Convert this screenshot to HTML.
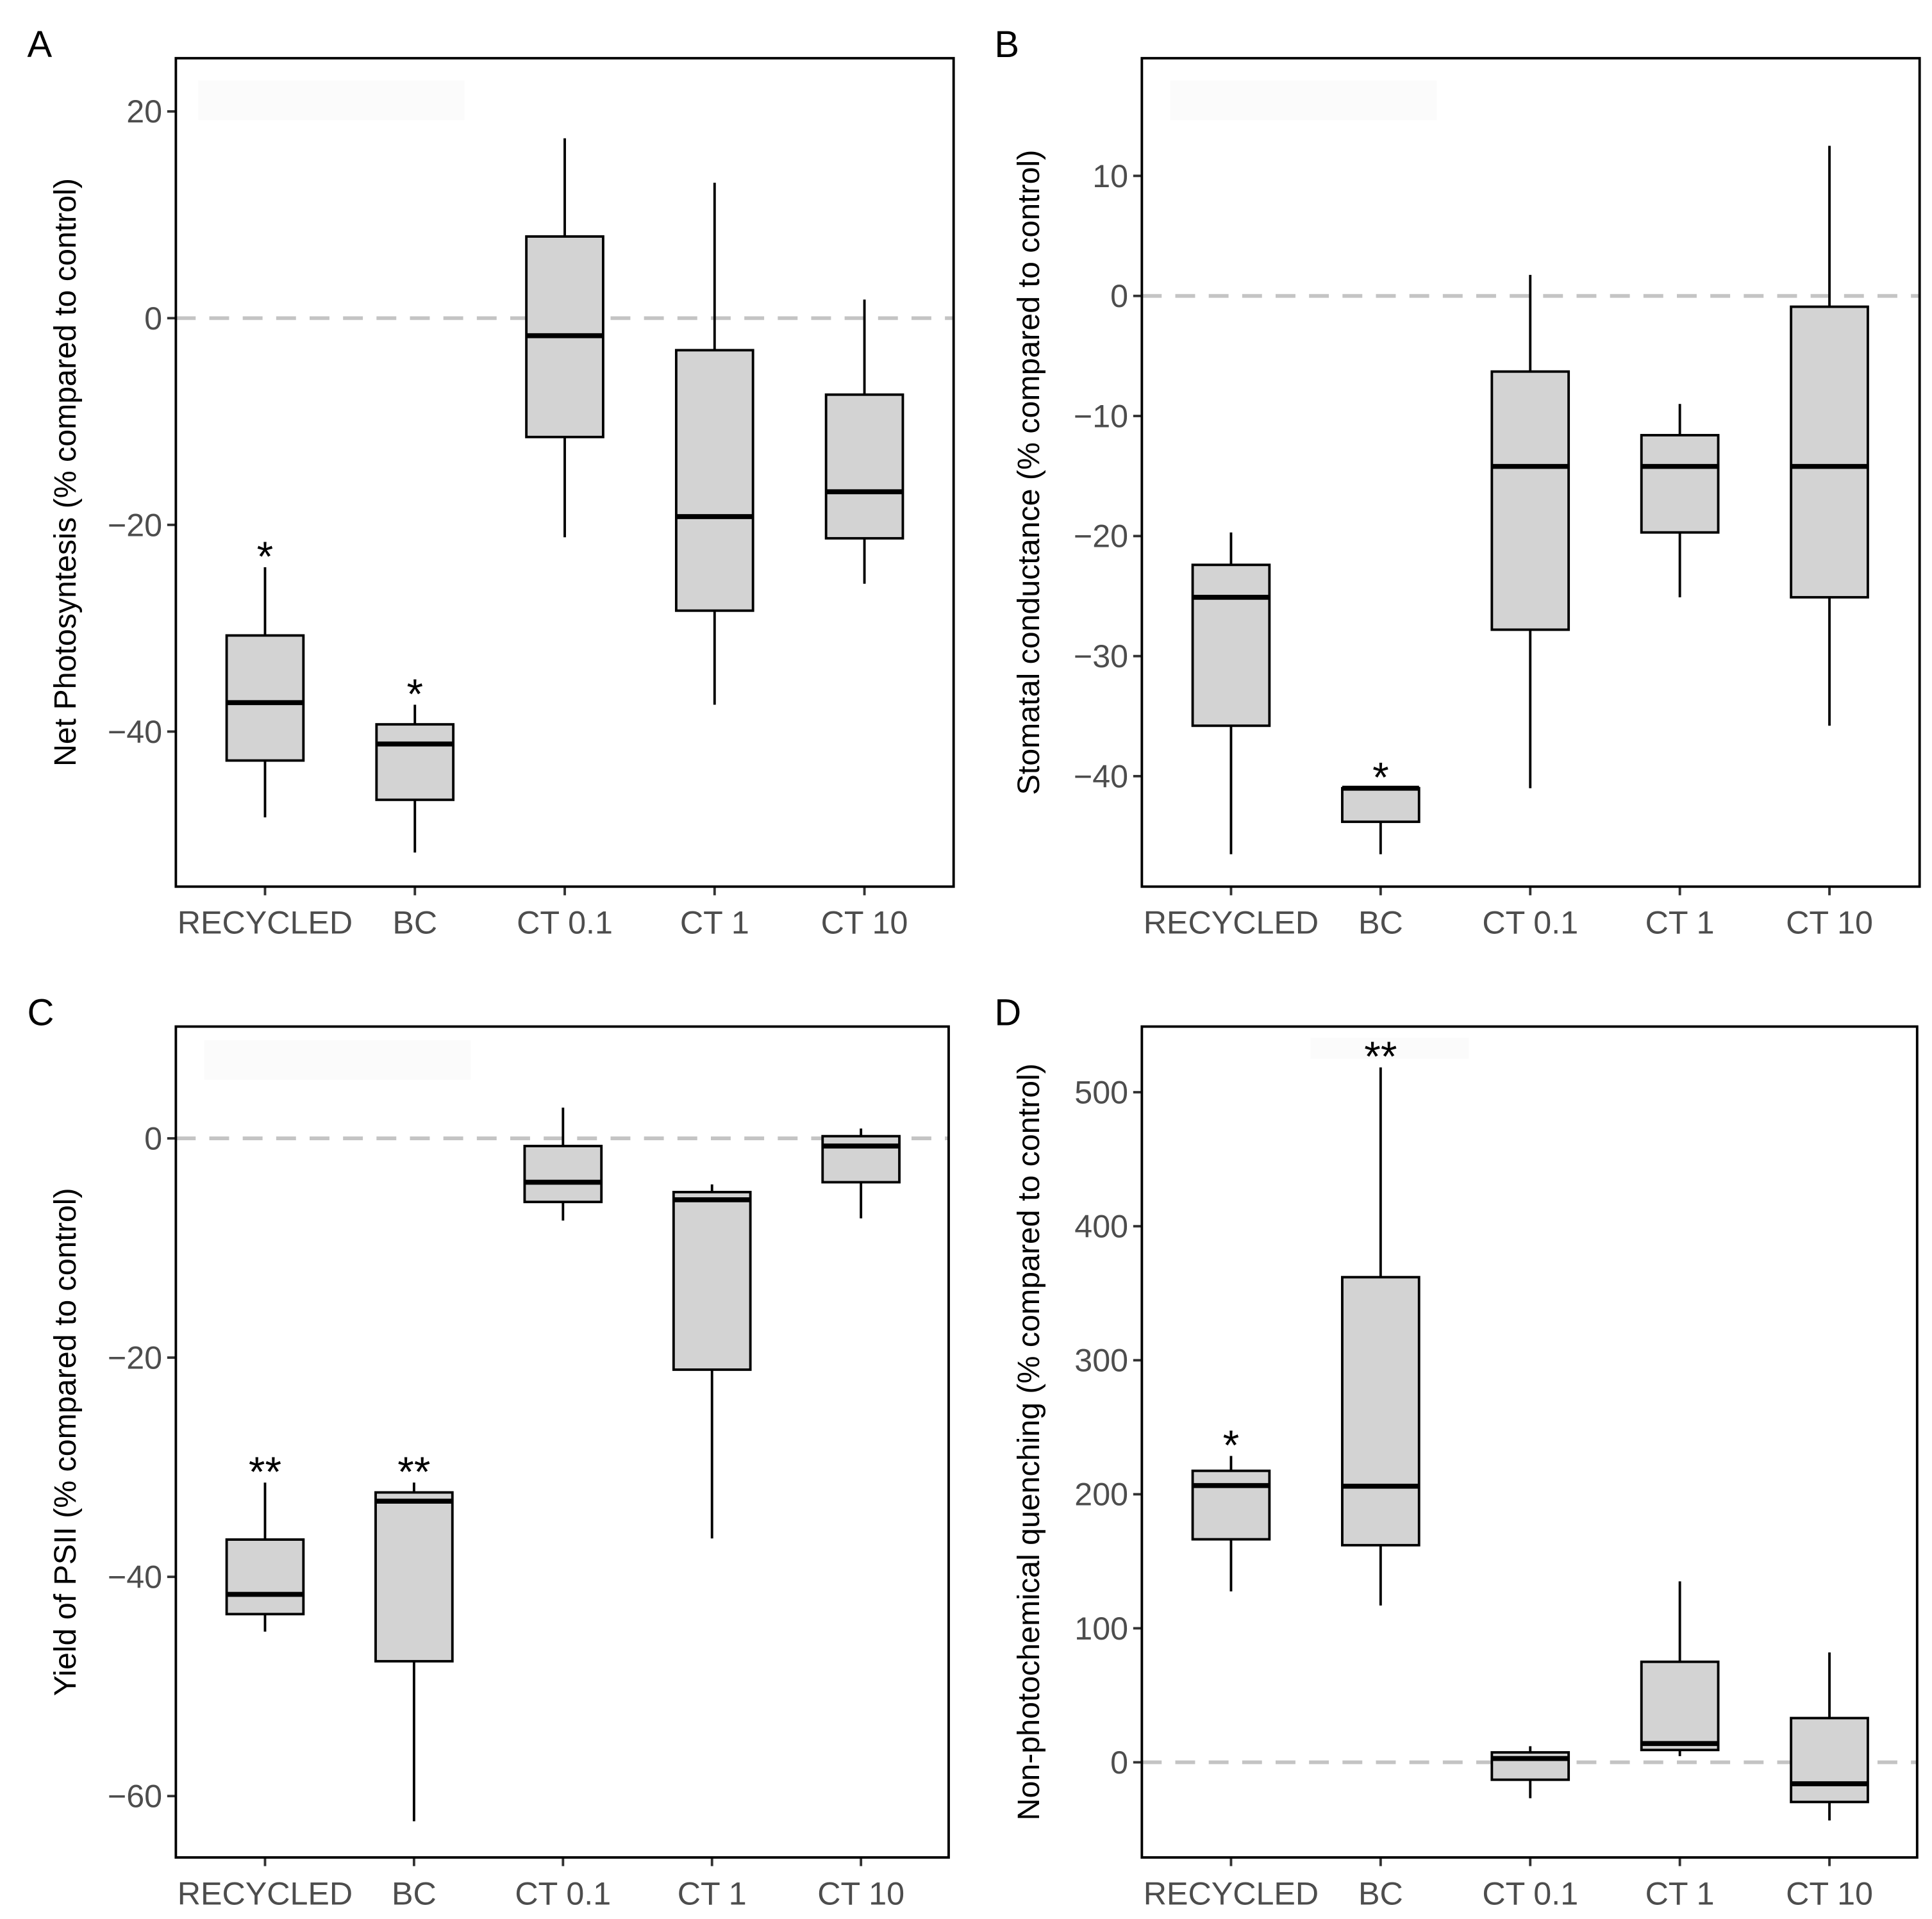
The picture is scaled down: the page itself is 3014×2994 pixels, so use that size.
<!DOCTYPE html>
<html><head><meta charset="utf-8"><style>
html,body{margin:0;padding:0;background:#fff;}
svg{display:block;}
text{font-family:"Liberation Sans",Arial,sans-serif;}
</style></head><body>
<svg id="fig" width="3014" height="2994" viewBox="0 0 1560 1549.7" preserveAspectRatio="none" xmlns="http://www.w3.org/2000/svg"></svg>
<script>
const categories = ["RECYCLED","BC","CT 0.1","CT 1","CT 10"];
// Panel A: Net photosynthesis [low, q1, median, q3, high]
const aLow = [-48.3,-51.7,-21.2,-37.4,-25.7];
const aQ1  = [-42.8,-46.6,-11.5,-28.3,-21.3];
const aMed = [-37.2,-41.2,-1.7,-19.2,-16.8];
const aQ3  = [-30.7,-39.3,7.9,-3.1,-7.4];
const aHigh= [-24.1,-37.4,17.4,13.1,1.8];
const aStars = ["*","*","","",""];
const aTicks = [20,0,-20,-40];
// Panel B: Stomatal conductance
const bLow = [-46.5,-46.5,-41,-25.1,-35.8];
const bQ1  = [-35.8,-43.8,-27.8,-19.7,-25.1];
const bMed = [-25.1,-41,-14.2,-14.2,-14.2];
const bQ3  = [-22.4,-41,-6.3,-11.6,-0.9];
const bHigh= [-19.7,-41,1.75,-9,12.5];
const bStars = ["","*","","",""];
const bTicks = [10,0,-10,-20,-30,-40];
// Panel C: Yield of PSII
const cLow = [-45,-62.3,-7.5,-36.5,-7.3];
const cQ1  = [-43.4,-47.7,-5.8,-21.1,-4.0];
const cMed = [-41.6,-33.1,-4.0,-5.6,-0.7];
const cQ3  = [-36.6,-32.3,-0.7,-4.9,0.2];
const cHigh= [-31.4,-31.4,2.8,-4.2,0.9];
const cStars = ["**","**","","",""];
const cTicks = [0,-20,-40,-60];
// Panel D: Non-photochemical quenching
const dLow = [127.5,117,-26.8,4.6,-43.4];
const dQ1  = [166.4,162,-13,9.2,-29.6];
const dMed = [206.5,206,2.8,14,-16];
const dQ3  = [217.5,362,7.4,75,33];
const dHigh= [228.6,518.5,12,135,82];
const dStars = ["*","**","","",""];
const dTicks = [500,400,300,200,100,0];

const NS="http://www.w3.org/2000/svg";
const svg=document.getElementById('fig');
function mk(tag,attrs,parent){const e=document.createElementNS(NS,tag);for(const k in attrs)e.setAttribute(k,attrs[k]);(parent||svg).appendChild(e);return e;}

function panel(cfg){
  const g=mk('g',{});
  
  
  const y=v=>cfg.y0+(cfg.ymax-v)/(cfg.ymax-cfg.ymin)*(cfg.y1-cfg.y0);
  const xs=i=>cfg.xc0+i*cfg.xstep;
  const lr=mk('rect',{x:cfg.lg[0],y:cfg.lg[1],width:cfg.lg[2],height:cfg.lg[3],fill:'#fbfbfb'},g);
  
  
  const zl=mk('line',{x1:cfg.x0,x2:cfg.x1,y1:y(0),y2:y(0),stroke:'#c4c4c4','stroke-width':3,'stroke-dasharray':'16 11'},g);
  
  
  const bw=62;
  categories.forEach((c,i)=>{
    const bg=mk('g',{},g);
    
    
    const x=xs(i);
    mk('line',{x1:x,x2:x,y1:y(cfg.hi[i]),y2:y(cfg.q3[i]),stroke:'#000','stroke-width':2},bg);
    mk('line',{x1:x,x2:x,y1:y(cfg.q1[i]),y2:y(cfg.lo[i]),stroke:'#000','stroke-width':2},bg);
    mk('rect',{x:x-bw/2,y:y(cfg.q3[i]),width:bw,height:Math.max(0.5,y(cfg.q1[i])-y(cfg.q3[i])),fill:'#d3d3d3',stroke:'#000','stroke-width':2},bg);
    mk('line',{x1:x-bw/2,x2:x+bw/2,y1:y(cfg.med[i]),y2:y(cfg.med[i]),stroke:'#000','stroke-width':4},bg);
    if(cfg.stars[i]){
      const t=mk('text',{x:x,y:y(cfg.hi[i])+3,'text-anchor':'middle','font-size':34,fill:'#000'},g);
      t.textContent=cfg.stars[i];
      
      
    }
    mk('line',{x1:x,x2:x,y1:cfg.y1,y2:cfg.y1+7,stroke:'#333','stroke-width':2},g);
    const tl=mk('text',{x:x,y:cfg.y1+38,'text-anchor':'middle','font-size':26,fill:'#4d4d4d'},g);
    tl.textContent=c;
    
    
  });
  cfg.ticks.forEach(v=>{
    mk('line',{x1:cfg.x0-7,x2:cfg.x0,y1:y(v),y2:y(v),stroke:'#333','stroke-width':2},g);
    const t=mk('text',{x:cfg.x0-11,y:y(v)+9,'text-anchor':'end','font-size':26,fill:'#4d4d4d'},g);
    t.textContent=(v<0?'\u2212'+(-v):String(v));
    
    
  });
  const fr=mk('rect',{x:cfg.x0,y:cfg.y0,width:cfg.x1-cfg.x0,height:cfg.y1-cfg.y0,fill:'none',stroke:'#000','stroke-width':2},g);
  
  
  const cy=(cfg.y0+cfg.y1)/2;
  const yt=mk('text',{x:cfg.tx,y:cy,'text-anchor':'middle','font-size':25,fill:'#000',transform:`rotate(-90 ${cfg.tx} ${cy})`},g);
  yt.textContent=cfg.title;
  
  
  const pl=mk('text',{x:cfg.lx,y:cfg.ly,'font-size':30,fill:'#000'},g);
  pl.textContent=cfg.key;
  
  
}

panel({key:'A',x0:142,x1:770,y0:47,y1:716,ymax:25.15,ymin:-55,xc0:214,xstep:121,
  lo:aLow,q1:aQ1,med:aMed,q3:aQ3,hi:aHigh,stars:aStars,ticks:aTicks,
  title:'Net Photosyntesis (% compared to control)',tx:61,lx:22,ly:46,lg:[160,65,215,32]});
panel({key:'B',x0:922,x1:1550,y0:47,y1:716,ymax:19.8,ymin:-49.2,xc0:994,xstep:120.8,
  lo:bLow,q1:bQ1,med:bMed,q3:bQ3,hi:bHigh,stars:bStars,ticks:bTicks,
  title:'Stomatal conductance (% compared to control)',tx:839,lx:803,ly:46,lg:[945,65,215,32]});
panel({key:'C',x0:142,x1:766,y0:829,y1:1500,ymax:10.2,ymin:-65.6,xc0:214,xstep:120.3,
  lo:cLow,q1:cQ1,med:cMed,q3:cQ3,hi:cHigh,stars:cStars,ticks:cTicks,
  title:'Yield of PSII (% compared to control)',tx:61,lx:22,ly:828,lg:[165,840,215,32]});
panel({key:'D',x0:922,x1:1548,y0:829,y1:1500,ymax:549,ymin:-71,xc0:994,xstep:120.8,
  lo:dLow,q1:dQ1,med:dMed,q3:dQ3,hi:dHigh,stars:dStars,ticks:dTicks,
  title:'Non-photochemical quenching (% compared to control)',tx:839,lx:803,ly:828,lg:[1058,838,128,17]});
</script>
</body></html>
